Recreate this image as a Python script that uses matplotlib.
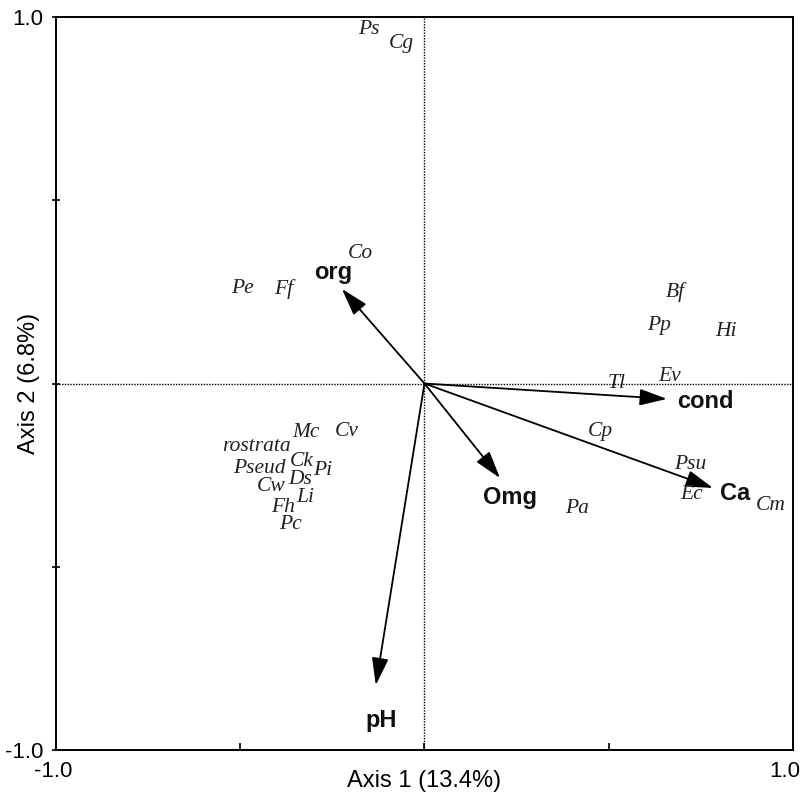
import matplotlib
matplotlib.use("Agg")
import matplotlib.pyplot as plt
import matplotlib.transforms as mtransforms

# Environmental vectors (arrow tips) and label positions
env_names = ["org", "cond", "Ca", "Omg", "pH"]
env_x = [-0.224, 0.658, 0.783, 0.205, -0.132]
env_y = [0.258, -0.042, -0.285, -0.258, -0.823]
env_lab_x = [-0.248, 0.761, 0.843, 0.232, -0.118]
env_lab_y = [0.304, -0.049, -0.300, -0.310, -0.920]

# Species scores
sp_names = ["Ps", "Cg", "Co", "Pe", "Ff", "Bf", "Pp", "Hi", "Tl", "Ev",
            "Cp", "Psu", "Ec", "Cm", "Pa", "Mc", "Cv", "rostrata", "Ck",
            "Pseud", "Ds", "Pi", "Cw", "Li", "Fh", "Pc"]
sp_x = [-0.150, -0.064, -0.175, -0.495, -0.381, 0.682, 0.636, 0.818, 0.522, 0.666,
        0.476, 0.720, 0.726, 0.940, 0.414, -0.322, -0.210, -0.457, -0.332,
        -0.449, -0.338, -0.275, -0.415, -0.324, -0.384, -0.364]
sp_y = [0.965, 0.929, 0.356, 0.258, 0.258, 0.250, 0.157, 0.143, 0.001, 0.018,
        -0.132, -0.222, -0.302, -0.334, -0.340, -0.133, -0.131, -0.173, -0.214,
        -0.231, -0.262, -0.237, -0.282, -0.310, -0.337, -0.386]

fig = plt.figure(figsize=(8.03, 7.96), dpi=100)
ax = fig.add_axes([0.0697, 0.0578, 0.9178, 0.9208])
ax.set_xlim(-1, 1)
ax.set_ylim(-1, 1)

ax.axhline(0, color="black", lw=1.0, ls=(0, (1, 1)), zorder=1)
ax.axvline(0, color="black", lw=1.0, ls=(0, (1, 1)), zorder=1)

for x, y in zip(env_x, env_y):
    ax.annotate("", xy=(x, y), xytext=(0, 0),
                arrowprops=dict(arrowstyle="-|>,head_length=1.05,head_width=0.32",
                                color="black", lw=1.3, shrinkA=0, shrinkB=0,
                                mutation_scale=16), zorder=3)
for n, x, y in zip(env_names, env_lab_x, env_lab_y):
    ax.text(x, y, n, ha="center", va="center", fontsize=17, fontweight="bold",
            family="Liberation Sans", color="#111111")

for n, x, y in zip(sp_names, sp_x, sp_y):
    ax.text(x, y, n, ha="center", va="center", fontsize=15.5, style="italic",
            family="Liberation Serif", color="#222222")

ax.set_xticks([-1, -0.5, 0, 0.5, 1])
ax.set_xticklabels(["-1.0", "", "", "", "1.0"])
ax.set_yticks([-1, -0.5, 0, 0.5, 1])
ax.set_yticklabels(["-1.0", "", "", "", "1.0"])
ax.tick_params(axis="x", direction="in", length=5, width=1.2, labelsize=16, pad=8)
ax.tick_params(axis="y", direction="inout", length=6, width=1.2, labelsize=16, pad=6)
for lab in ax.get_xticklabels() + ax.get_yticklabels():
    lab.set_family("Liberation Sans")
for s in ax.spines.values():
    s.set_linewidth(1.4)

# shift the last x tick label slightly left so it stays inside the figure
xt = ax.get_xticklabels()
xt[-1].set_transform(xt[-1].get_transform() +
                     mtransforms.ScaledTranslation(-0.08, 0, fig.dpi_scale_trans))
xt[0].set_transform(xt[0].get_transform() +
                    mtransforms.ScaledTranslation(-0.03, 0, fig.dpi_scale_trans))

ax.set_xlabel("Axis 1 (13.4%)", fontsize=17, family="Liberation Sans")
ax.set_ylabel("Axis 2 (6.8%)", fontsize=17, family="Liberation Sans")
ax.xaxis.set_label_coords(0.5, -0.042)
ax.xaxis.label.set_va("center")
ax.yaxis.set_label_coords(-0.036, 0.5)
ax.yaxis.label.set_va("center")

fig.savefig("out.png", dpi=100)
